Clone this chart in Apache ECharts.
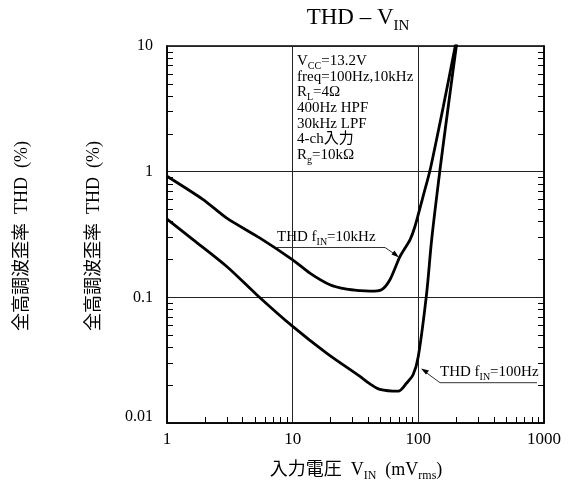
<!DOCTYPE html>
<html><head><meta charset="utf-8">
<script src="https://cdn.jsdelivr.net/npm/echarts@6/dist/echarts.min.js"></script>
<style>html,body{margin:0;padding:0;background:#fff}#c{width:570px;height:491px}</style>
</head><body><div id="c"></div><script>
// ---- data ----
const vin10k = [1, 1.94, 2.99, 5.5, 10, 13.7, 19.8, 26.9, 34.3, 41.2, 51, 59.4, 71.4, 85.8, 94, 109, 124, 158, 198];
const thd10k = [0.92, 0.60, 0.427, 0.296, 0.199, 0.156, 0.126, 0.116, 0.113, 0.112, 0.115, 0.138, 0.211, 0.287, 0.366, 0.634, 1.03, 3.3, 10.3];
const vin100 = [1, 1.62, 2.99, 5.17, 10, 18.6, 34.3, 41.2, 49.5, 69.2, 80.7, 91, 100, 116.5, 127.6, 148.6, 173, 202];
const thd100 = [0.419, 0.287, 0.176, 0.105, 0.0587, 0.036, 0.0235, 0.0205, 0.0185, 0.0179, 0.0208, 0.0243, 0.034, 0.108, 0.287, 1.03, 3.3, 10.5];
const xTickLabels = ['1', '10', '100', '1000'];
const yTickLabels = ['0.01', '0.1', '1', '10'];
const xMinor = [2,3,4,5,6,7,8,9,20,30,40,50,60,70,80,90,200,300,400,500,600,700,800,900];
const yMinor = [0.02,0.03,0.04,0.05,0.06,0.07,0.08,0.09,0.2,0.3,0.4,0.5,0.6,0.7,0.8,0.9,2,3,4,5,6,7,8,9];
const conditions = ['V{s|CC}=13.2V', 'freq=100Hz,10kHz', 'R{s|L}=4Ω', '400Hz HPF', '30kHz LPF', '4-ch入力', 'R{s|g}=10kΩ'];

const SERIF = "'Liberation Serif', 'Noto Sans CJK JP', serif";
const chart = echarts.init(document.getElementById('c'), null, {renderer: 'canvas'});
const zip = (a, b) => a.map((v, i) => [v, b[i]]);
const fmt = v => String(+(+v).toPrecision(3));

const baseLog = {type: 'log', logBase: 10};
const option = {
  backgroundColor: '#fff',
  animation: false,
  grid: {left: 167, top: 46, width: 377, height: 377, show: true, borderColor: '#000', borderWidth: 1.5, backgroundColor: 'transparent'},
  xAxis: [
    Object.assign({}, baseLog, {min: 1, max: 1000, position: 'bottom',
      axisLine: {show: true, lineStyle: {color: '#000', width: 1.5}},
      axisTick: {show: false},
      splitLine: {show: true, lineStyle: {color: '#222', width: 1}},
      axisLabel: {color: '#000', fontFamily: SERIF, fontSize: 17, margin: 8, formatter: v => { const s = fmt(v); return xTickLabels.includes(s) ? s : ''; }}
    }),
    Object.assign({}, baseLog, {min: 1, max: 1000, position: 'bottom',
      axisLine: {show: false}, axisLabel: {show: false}, splitLine: {show: false},
      axisTick: {show: true, inside: true, length: 6, customValues: xMinor, lineStyle: {color: '#000', width: 1}}
    })
  ],
  yAxis: [
    Object.assign({}, baseLog, {min: 0.01, max: 10, position: 'left',
      axisLine: {show: true, lineStyle: {color: '#000', width: 1.5}},
      axisTick: {show: false},
      splitLine: {show: true, lineStyle: {color: '#222', width: 1}},
      axisLabel: {color: '#000', fontFamily: SERIF, fontSize: 16, margin: 14,
        formatter: v => { const s = fmt(v); if (!yTickLabels.includes(s)) return ''; return s === '0.01' ? '{lo|' + s + '}' : s; },
        rich: {lo: {fontFamily: SERIF, fontSize: 16, color: '#000', padding: [0, 0, 12, 0]}}}
    }),
    Object.assign({}, baseLog, {min: 0.01, max: 10, position: 'left',
      axisLine: {show: false}, axisLabel: {show: false}, splitLine: {show: false},
      axisTick: {show: true, inside: true, length: 6, customValues: yMinor, lineStyle: {color: '#000', width: 1}}
    }),
    Object.assign({}, baseLog, {min: 0.01, max: 10, position: 'right',
      axisLine: {show: true, lineStyle: {color: '#000', width: 1.5}}, axisLabel: {show: false}, splitLine: {show: false},
      axisTick: {show: true, inside: true, length: 6, customValues: yMinor, lineStyle: {color: '#000', width: 1}}
    })
  ],
  series: [
    {type: 'line', name: 'THD fIN=10kHz', xAxisIndex: 0, yAxisIndex: 0, data: zip(vin10k, thd10k), smooth: 0.25, symbol: 'none', clip: true,
      lineStyle: {color: '#000', width: 2.8}},
    {type: 'line', name: 'THD fIN=100Hz', xAxisIndex: 0, yAxisIndex: 0, data: zip(vin100, thd100), smooth: 0.3, symbol: 'none', clip: true,
      lineStyle: {color: '#000', width: 2.8}}
  ]
};
chart.setOption(option);

const sub = (fs) => ({fontFamily: SERIF, fontSize: fs, lineHeight: fs, verticalAlign: 'bottom', fill: '#000', color: '#000'});
function txt(x, y, text, fs, subFs, opts) {
  opts = opts || {};
  return Object.assign({type: 'text', x: x, y: y, silent: true,
    style: {text: text, fontFamily: SERIF, fontSize: fs, lineHeight: Math.round(fs * 1.35), fill: '#000',
      align: opts.align || 'left', verticalAlign: 'middle', textAlign: opts.align || 'left', textVerticalAlign: 'middle',
      rich: {s: sub(subFs)}}}, opts.extra || {});
}
const g = [];
// title
g.push(txt(358, 18, 'THD – V{s|IN}', 23, 15, {align: 'center'}));
// condition block
conditions.forEach((t, i) => g.push(txt(297, 61 + i * 15.7, t, 15, 10)));
// annotations
g.push(txt(277, 237, 'THD f{s|IN}=10kHz', 15, 10));
g.push({type: 'polyline', silent: true, shape: {points: [[277, 247.5], [385, 247.5], [396, 255]]}, style: {stroke: '#333', lineWidth: 1, fill: null}});
g.push({type: 'polygon', silent: true, shape: {points: [[399, 257.5], [391.5, 254.5], [394.5, 250.5]]}, style: {fill: '#000'}});
g.push(txt(440, 372, 'THD f{s|IN}=100Hz', 15, 10));
g.push({type: 'polyline', silent: true, shape: {points: [[537, 382.7], [440, 382.7], [424, 371]]}, style: {stroke: '#333', lineWidth: 1, fill: null}});
g.push({type: 'polygon', silent: true, shape: {points: [[421, 368.5], [429, 370.5], [426, 374.5]]}, style: {fill: '#000'}});
// axis titles
g.push(txt(356, 470, '入力電圧  V{s|IN}  (mV{s|rms})', 18, 12, {align: 'center'}));
g.push(txt(22, 236, '全高調波歪率  THD  (%)', 18, 12, {align: 'center', extra: {rotation: Math.PI / 2}}));
g.push(txt(94, 236, '全高調波歪率  THD  (%)', 18, 12, {align: 'center', extra: {rotation: Math.PI / 2}}));
chart.setOption({graphic: {elements: g}});
</script></body></html>
